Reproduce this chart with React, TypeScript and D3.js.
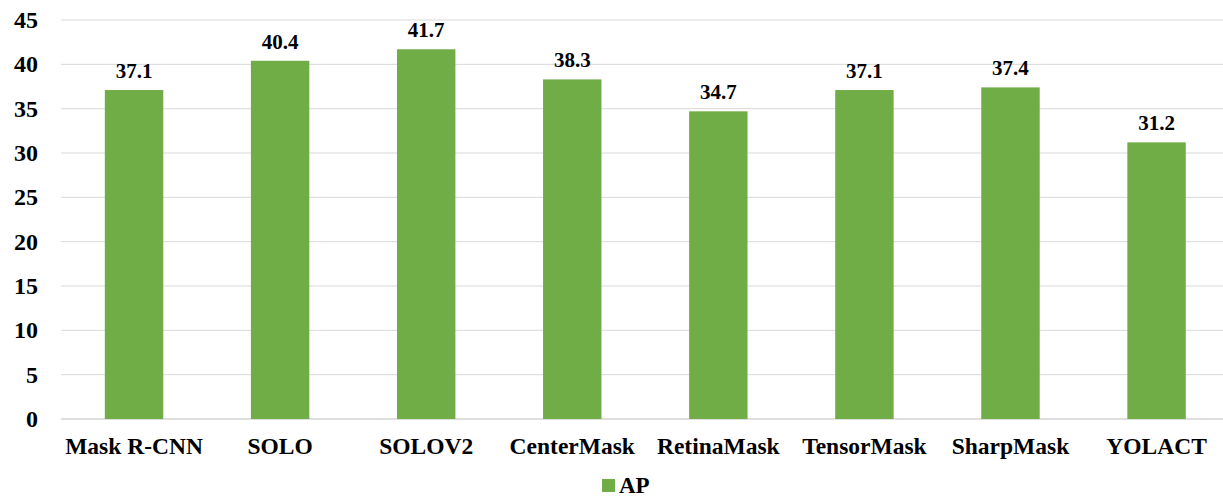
import React from "react";
import * as d3 from "d3";

const categories = ["Mask R-CNN", "SOLO", "SOLOV2", "CenterMask", "RetinaMask", "TensorMask", "SharpMask", "YOLACT"];
const apValues = [37.1, 40.4, 41.7, 38.3, 34.7, 37.1, 37.4, 31.2];
const yTicks = [0, 5, 10, 15, 20, 25, 30, 35, 40, 45];
const seriesName = "AP";

const W = 1223;
const H = 497;
const left = 61;
const right = 1229.6;
const top = 20;
const bottom = 419;
const green = "#70ad47";
const font = "'Liberation Serif', 'Times New Roman', serif";

export default function App() {
  const x = d3.scaleBand<string>().domain(categories).range([left, right]).paddingInner(0.6).paddingOuter(0.3);
  const y = d3.scaleLinear().domain([0, 45]).range([bottom, top]);
  return (
    <svg width={W} height={H} style={{ position: "absolute", left: 0, top: 0, background: "#fff" }}>
      {yTicks.map((t) => (
        <g key={t}>
          <line x1={left} x2={W} y1={y(t)} y2={y(t)} stroke={t === 0 ? "#bfbfbf" : "#d9d9d9"} strokeWidth={1} />
          <text x={38} y={y(t) + 8} textAnchor="end" fontFamily={font} fontWeight="bold" fontSize={24} fill="#000">{t}</text>
        </g>
      ))}
      {categories.map((c, i) => {
        const bx = x(c)!;
        const bw = x.bandwidth();
        return (
          <g key={c}>
            <rect x={bx} y={y(apValues[i])} width={bw} height={bottom - y(apValues[i])} fill={green} />
            <text x={bx + bw / 2} y={y(apValues[i]) - 12} textAnchor="middle" fontFamily={font} fontWeight="bold" fontSize={21} fill="#000">{apValues[i].toFixed(1)}</text>
            <text x={bx + bw / 2} y={454} textAnchor="middle" fontFamily={font} fontWeight="bold" fontSize={23.5} fill="#000">{c}</text>
          </g>
        );
      })}
      <rect x={602} y={479} width={13} height={13} fill={green} />
      <text x={619} y={493} fontFamily={font} fontWeight="bold" fontSize={23} fill="#000">{seriesName}</text>
    </svg>
  );
}
